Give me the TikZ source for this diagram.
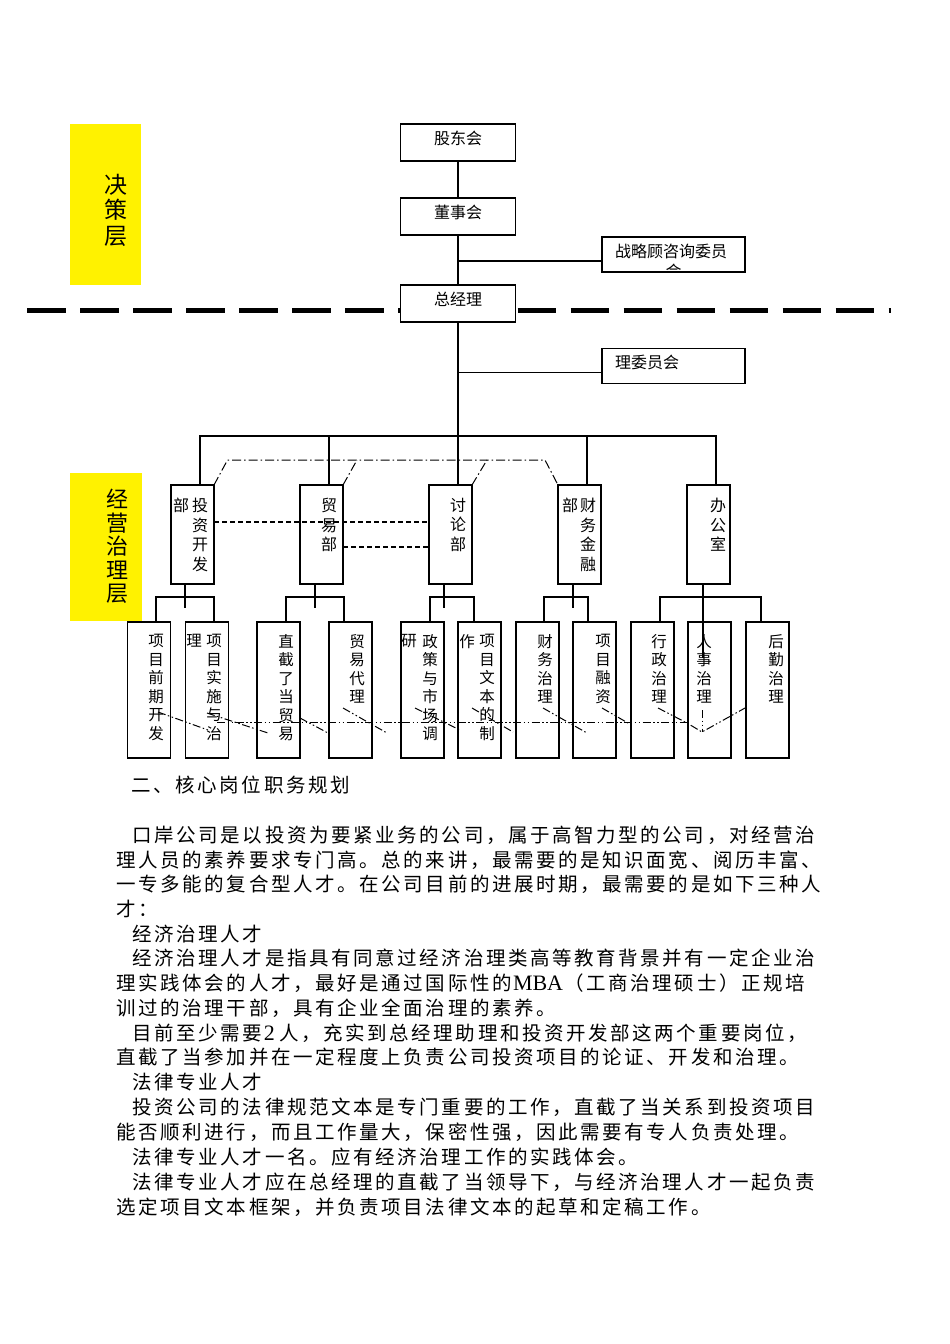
\documentclass[tikz,border=0pt]{standalone}
\usepackage{fontspec}
\setmainfont{Liberation Serif}
\newfontfamily\cjk{Noto Sans CJK SC}
\usetikzlibrary{positioning}
\usetikzlibrary{calc}

\newlength\charpitch
\setlength\charpitch{22.1pt}
\newcommand\spreadchars[1]{\ifx#1\relax\else\makebox[\charpitch]{#1}\expandafter\spreadchars\fi}

\begin{document}
\begin{tikzpicture}[x=1pt,y=-1pt,
  box/.style={draw,fill=white,line width=1.2pt,outer sep=0pt,inner sep=0pt},
  topbox/.style={box,minimum width=115pt,minimum height=37pt,font=\cjk\fontsize{16}{19}\selectfont,text height=14pt,text depth=11pt},
  sidebox/.style={box,minimum width=143pt,minimum height=35pt,text width=117pt,align=left,inner xsep=13pt,font=\cjk\fontsize{16}{19}\selectfont,text height=14pt},
  deptbox/.style={box,minimum width=43pt,minimum height=99pt},
  subbox/.style={box,minimum width=43pt,minimum height=136pt},
  layer/.style={fill=yellow,inner sep=0pt,outer sep=0pt},
  dtext/.style={inner sep=0pt,anchor=north,align=center,font=\cjk\fontsize{16}{19.5}\selectfont},
  stext/.style={inner sep=0pt,anchor=north,align=center,font=\cjk\fontsize{15.5}{18.5}\selectfont},
  para/.style={inner sep=0pt,anchor=west,font=\cjk\fontsize{19.5}{19.5}\selectfont},
  link/.style={line width=1.2pt},
  shortdash/.style={line width=1.2pt,dash pattern=on 5pt off 3pt},
  mixdash/.style={line width=1pt,dash pattern=on 9pt off 3pt on 1.5pt off 3pt},
  twodot/.style={line width=1pt,dash pattern=on 8pt off 2.5pt on 1.5pt off 2.5pt on 1.5pt off 2.5pt}]
  \fill[white,use as bounding box] (0,0) rectangle (950,1344);

  % layers
  \node[layer,minimum width=71pt,minimum height=161pt] (lay1) at (105.5,204.5) {};
  \node[layer,minimum width=72pt,minimum height=148pt] (lay2) at (106,547) {};
  \node[inner sep=0pt,align=center,font=\cjk\fontsize{23}{25.5}\selectfont] (lt1) at (116,210) {决\\策\\层};
  \node[inner sep=0pt,align=center,font=\cjk\fontsize{22}{23.4}\selectfont] (lt2) at (117,546.5) {经\\营\\治\\理\\层};

  \draw[line width=5pt,dash pattern=on 38.5pt off 14.5pt] (27.4,310) -- (400,310);
  \draw[line width=5pt,dash pattern=on 38.5pt off 14.5pt] (464.6,310) -- (891,310);

  % top
  \node[topbox] (gd) at (458,142.5) {股东会};
  \node[topbox] (ds) at (458,216.5) {董事会};
  \node[topbox] (zjl) at (458,303.5) {总经理};
  \node[sidebox,text depth=9pt] (zl) at (673.5,254.5) {战略顾咨询委员};
  \node[sidebox,text depth=10pt] (lw) at (673.5,366) {理委员会};
  \begin{scope}
    \clip (zl.south west) rectangle (zl.north east);
    \node[inner sep=0pt,font=\cjk\fontsize{16}{19}\selectfont] (zlh) at (673.5,271) {会};
  \end{scope}

  \coordinate (bus) at ($(zjl.south)+(0,114)$);
  \draw[link] (gd) -- (ds);
  \draw[link] (ds) -- (zjl);
  \draw[link] (zjl) -- (bus);
  \draw[link] ([yshift=-6.5pt]zl.west) -- ([yshift=-6.5pt]zl.west -| ds.south);
  \draw[link] ([yshift=-6.5pt]lw.west) -- ([yshift=-6.5pt]lw.west -| zjl.south);

  % departments
  \node[deptbox] (d1) at (192.5,534.5) {};
  \node[deptbox,right=86pt of d1] (d2) {};
  \node[deptbox,right=86pt of d2] (d3) {};
  \node[deptbox,right=86pt of d3] (d4) {};
  \node[deptbox,right=86pt of d4] (d5) {};

  \draw[link] ([xshift=7.5pt]d1.north) |- (bus) -| ([xshift=7.5pt]d5.north);
  \foreach \n in {d2,d3,d4}
    \draw[link] ([xshift=7.5pt]\n.north) -- ([xshift=7.5pt]\n.north |- bus);

  \node[dtext] (t1) at (200,498) {投\\资\\开\\发};
  \node[dtext] (t1b) at (181,498) {部};
  \node[dtext] (t2) at (329,498) {贸\\易\\部};
  \node[dtext] (t3) at (458,498) {讨\\论\\部};
  \node[dtext] (t4) at (588,498) {财\\务\\金\\融};
  \node[dtext] (t4b) at (570,498) {部};
  \node[dtext] (t5) at (718,498) {办\\公\\室};

  \draw[shortdash] ([yshift=12.5pt]d1.east) -- ([yshift=12.5pt]d3.west);
  \draw[shortdash] ([yshift=-12.5pt]d2.east) -- ([yshift=-12.5pt]d3.west);
  \draw[mixdash] (d1.north east) -- (227.5,460) -- (545,460) -- (d4.north west);
  \draw[mixdash] (d2.north east) -- (357,460);
  \draw[mixdash] (d3.north east) -- (487,460);

  % posts
  \node[subbox] (s1) at (149,690) {};
  \node[subbox,right=15pt of s1] (s2) {};
  \node[subbox,right=28.5pt of s2] (s3) {};
  \node[subbox,right=29pt of s3] (s4) {};
  \node[subbox,right=29pt of s4] (s5) {};
  \node[subbox,right=14pt of s5] (s6) {};
  \node[subbox,right=15pt of s6] (s7) {};
  \node[subbox,right=14pt of s7] (s8) {};
  \node[subbox,right=15pt of s8] (s9) {};
  \node[subbox,right=14pt of s9] (s10) {};
  \node[subbox,right=15pt of s10] (s11) {};

  \draw[link] ($(d1.south)+(-7.5,0)$) -- ++(0,24);
  \draw[link] ($(s1.north)+(7,0)$) |- ($(s2.north)+(7,-25)$) -- ($(s2.north)+(7,0)$);
  \draw[link] ($(d2.south)+(-6.5,0)$) -- ++(0,24);
  \draw[link] ($(s3.north)+(7.5,0)$) |- ($(s4.north)+(-6.5,-25)$) -- ($(s4.north)+(-6.5,0)$);
  \draw[link] ($(d3.south)+(-6.5,0)$) -- ++(0,24);
  \draw[link] ($(s5.north)+(7.5,0)$) |- ($(s6.north)+(-5.5,-25)$) -- ($(s6.north)+(-5.5,0)$);
  \draw[link] ($(d4.south)+(-6.5,0)$) -- ++(0,24);
  \draw[link] ($(s7.north)+(6.5,0)$) |- ($(s8.north)+(-6.5,-25)$) -- ($(s8.north)+(-6.5,0)$);
  \draw[link] ($(d5.south)+(-5.5,0)$) -- ++(0,74);
  \draw[link] ($(s9.north)+(7.5,0)$) |- ($(s11.north)+(-6.5,-25)$) -- ($(s11.north)+(-6.5,0)$);

  \node[stext] (u1) at (156,634) {项\\目\\前\\期\\开\\发};
  \node[stext] (u2) at (214,634) {项\\目\\实\\施\\与\\治};
  \node[stext] (u2b) at (194,634) {理};
  \node[stext] (u3) at (286,634) {直\\截\\了\\当\\贸\\易};
  \node[stext] (u4) at (357,634) {贸\\易\\代\\理};
  \node[stext] (u5) at (430,634) {政\\策\\与\\市\\场\\调};
  \node[stext] (u5b) at (409,634) {研};
  \node[stext] (u6) at (487,634) {项\\目\\文\\本\\的\\制};
  \node[stext] (u6b) at (467,634) {作};
  \node[stext] (u7) at (545,634) {财\\务\\治\\理};
  \node[stext] (u8) at (603,634) {项\\目\\融\\资};
  \node[stext] (u9) at (659,634) {行\\政\\治\\理};
  \node[stext] (u10) at (704,634) {人\\事\\治\\理};
  \node[stext] (u11) at (776,634) {后\\勤\\治\\理};

  \draw[twodot] (217,722) -- (687,722);
  \draw[twodot] (158,712) -- (208,730);
  \draw[twodot] (207,713) -- (268,733);
  \draw[twodot] (300,718) -- (328,733);
  \draw[twodot] (343,708) -- (387,733);
  \draw[twodot] (415,708) -- (460,730);
  \draw[twodot] (472,708) -- (513,732);
  \draw[twodot] (543,708) -- (587,733);
  \draw[twodot] (602,708) -- (628,723);
  \draw[twodot] (658,708) -- (687,723) -- (702,732) -- (745,708);
  \draw[twodot] (702,710) -- (702,732);

  % text
  \node[para] (p0) at (130,785) {\spreadchars 二、核心岗位职务规划\relax};
  \node[para] (p1) at (131,835) {\spreadchars 口岸公司是以投资为要紧业务的公司，属于高智力型的公司，对经营治\relax};
  \node[para] (p2) at (115,860) {\spreadchars 理人员的素养要求专门高。总的来讲，最需要的是知识面宽、阅历丰富、\relax};
  \node[para] (p3) at (115,884) {\spreadchars 一专多能的复合型人才。在公司目前的进展时期，最需要的是如下三种人\relax};
  \node[para] (p4) at (115,909) {\spreadchars 才：\relax};
  \node[para] (p5) at (131,934) {\spreadchars 经济治理人才\relax};
  \node[para] (p6) at (131,958) {\spreadchars 经济治理人才是指具有同意过经济治理类高等教育背景并有一定企业治\relax};
  \node[para] (p7) at (115,983) {\spreadchars 理实践体会的人才，最好是通过国际性的\relax{\rmfamily\fontsize{22}{22}\selectfont MBA}\spreadchars （工商治理硕士）正规培\relax};
  \node[para] (p8) at (115,1008) {\spreadchars 训过的治理干部，具有企业全面治理的素养。\relax};
  \node[para] (p9) at (131,1033) {\spreadchars 目前至少需要\relax{\rmfamily\fontsize{22}{22}\selectfont 2}\hspace{3pt}\spreadchars 人，充实到总经理助理和投资开发部这两个重要岗位，\relax};
  \node[para] (p10) at (115,1057) {\spreadchars 直截了当参加并在一定程度上负责公司投资项目的论证、开发和治理。\relax};
  \node[para] (p11) at (131,1082) {\spreadchars 法律专业人才\relax};
  \node[para] (p12) at (131,1107) {\spreadchars 投资公司的法律规范文本是专门重要的工作，直截了当关系到投资项目\relax};
  \node[para] (p13) at (115,1132) {\spreadchars 能否顺利进行，而且工作量大，保密性强，因此需要有专人负责处理。\relax};
  \node[para] (p14) at (131,1157) {\spreadchars 法律专业人才一名。应有经济治理工作的实践体会。\relax};
  \node[para] (p15) at (131,1182) {\spreadchars 法律专业人才应在总经理的直截了当领导下，与经济治理人才一起负责\relax};
  \node[para] (p16) at (115,1207) {\spreadchars 选定项目文本框架，并负责项目法律文本的起草和定稿工作。\relax};
\end{tikzpicture}
\end{document}
